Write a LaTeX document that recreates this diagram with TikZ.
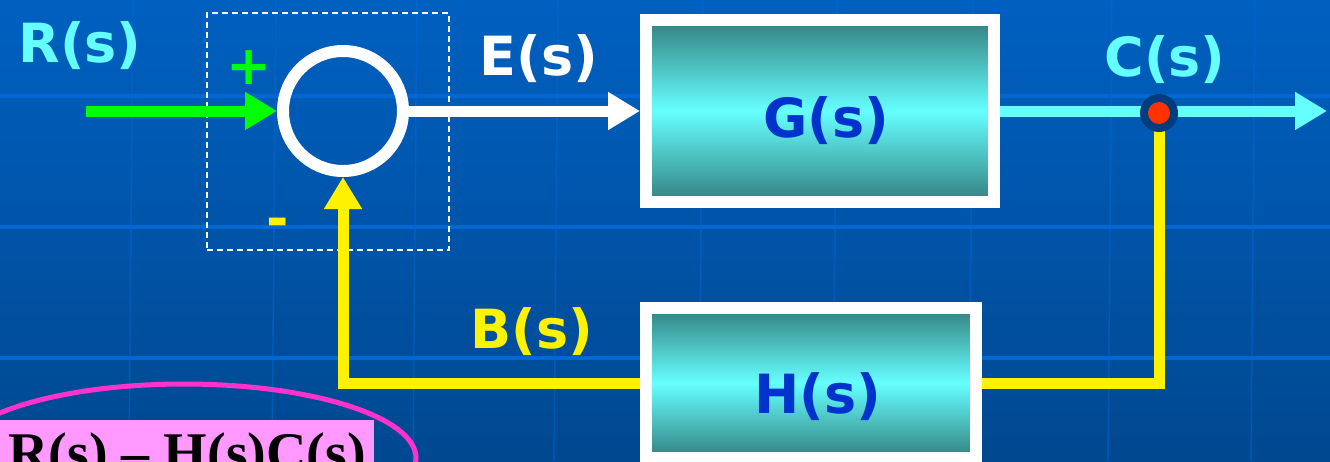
\documentclass[tikz,border=0pt]{standalone}
\usepackage{fontspec}
\setmainfont{DejaVu Sans}
\newfontfamily\eqfont{Liberation Serif}
\usetikzlibrary{arrows.meta,shapes.geometric}

\definecolor{bgtop}{RGB}{0,96,192}
\definecolor{bgbot}{RGB}{0,72,144}
\definecolor{gridblue}{RGB}{0,104,212}
\definecolor{sigcyan}{RGB}{102,255,255}
\definecolor{boxteal}{RGB}{51,128,128}
\definecolor{txtblue}{RGB}{0,51,204}
\definecolor{dotnavy}{RGB}{0,60,126}
\definecolor{dotred}{RGB}{255,51,0}
\definecolor{eqpink}{RGB}{255,153,255}
\definecolor{ringpink}{RGB}{255,51,204}

\begin{document}
\begin{tikzpicture}
  [x=1pt,y=-1pt,
   every node/.style={font=\fontsize{54}{60}\selectfont\bfseries},
   block/.style={draw=white,line width=12pt,top color=boxteal,bottom color=boxteal,
     middle color=sigcyan,inner sep=0pt},
   sumcirc/.style={circle,draw=white,line width=12pt,minimum size=120pt,inner sep=0pt},
   sig/.style={line width=11pt,-{Triangle[length=32pt,width=36pt]}},
   fb/.style={yellow,line width=11pt},
   gridh/.style={gridblue,line width=3.5pt},
   gridv/.style={gridblue,line width=1.5pt,opacity=.5}]

  % page and backdrop
  \useasboundingbox (0,0) rectangle (1330,461);
  \clip (0,0) rectangle (1330,461);
  \shade[top color=bgtop,bottom color=bgbot] (0,0) rectangle (1330,461);
  \foreach \gx in {133,276,417,558,703,837,973,1112,1255}
    \draw[gridv] (\gx,0) -- (\gx-4,461);
  \foreach \gy in {96,227,358}
    \draw[gridh] (0,\gy) -- (1330,\gy);

  % comparator frame
  \node[draw=white,line width=1.5pt,dash pattern=on 6pt off 4pt,
        minimum width=242pt,minimum height=237pt,inner sep=0pt] (frame) at (328,131.5) {};

  % error equation
  \node[ellipse,draw=ringpink,line width=5pt,minimum width=464pt,minimum height=148pt] (ring) at (184,458) {};
  \node[fill=eqpink,anchor=north west,minimum width=374pt,inner xsep=0pt,inner ysep=12pt,
        font=\eqfont\bfseries\fontsize{56}{60}\selectfont] (eq) at (0,420) {R(s) – H(s)C(s)};

  % blocks
  \node[sumcirc] (sum) at (343,111) {};
  \node[block,minimum width=348pt,minimum height=182pt] (G) at (820,111) {};
  \node[block,minimum width=330pt,minimum height=150pt] (H) at (811,383) {};

  \coordinate (in) at (86,111);
  \coordinate (out) at (1327,111);
  \coordinate (tapc) at (1159,111);

  % signal paths
  \draw[sig,green] (in) -- (sum.west);
  \draw[sig,white] (sum.east) -- (G.west);
  \draw[sig,sigcyan] (G.east) -- (out);
  \draw[fb] (tapc) |- (H.east);
  \draw[fb,-{Triangle[length=32pt,width=36pt]}] (H.west) -| (sum.south);

  % take-off point
  \node[circle,fill=dotnavy,minimum size=38pt,inner sep=0pt] (tap) at (1159,113) {};
  \node[circle,fill=dotred,minimum size=22pt,inner sep=0pt] (tapdot) at (tap) {};

  % labels
  \node[anchor=base,text=sigcyan] (rlab) at (80,62) {R(s)};
  \node[anchor=base,text=white] (elab) at (539,75) {E(s)};
  \node[anchor=base,text=sigcyan] (clab) at (1165,76) {C(s)};
  \node[anchor=base,text=txtblue] (glab) at (826,137) {G(s)};
  \node[anchor=base,text=txtblue] (hlab) at (818,413) {H(s)};
  \node[anchor=base,text=yellow] (blab) at (532,348) {B(s)};
  \node[anchor=base,text=green] (plus) at (249,84) {+};
  \node[anchor=base,text=yellow] (minus) at (278,237) {-};
\end{tikzpicture}
\end{document}
